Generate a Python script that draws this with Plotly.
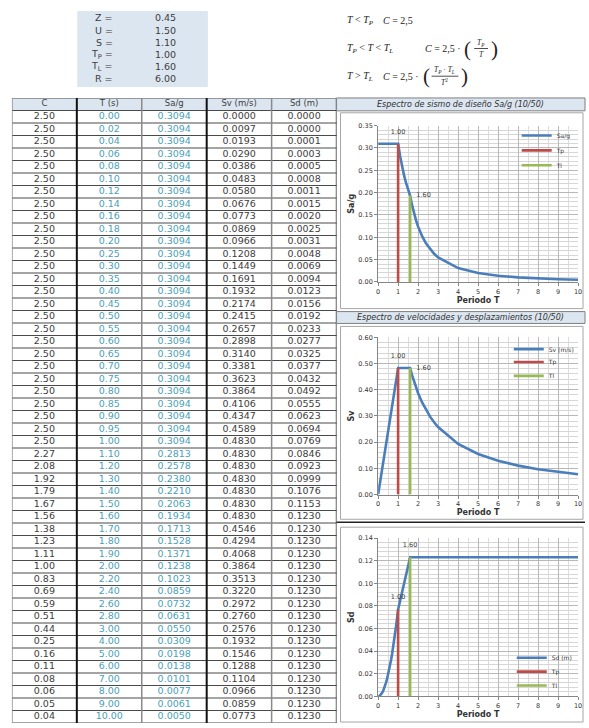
import plotly.graph_objects as go

W, H = 589, 728


def px(x):
    return x / W


def py(y):
    return 1 - y / H


# ---------------- data ----------------
PARAM_NAMES = ["Z", "U", "S", "T<sub>P</sub>", "T<sub>L</sub>", "R"]
PARAM_VALUES = [0.45, 1.50, 1.10, 1.00, 1.60, 6.00]

HEADERS = ["C", "T (s)", "Sa/g", "Sv (m/s)", "Sd (m)"]

T_VALS = [0.00, 0.02, 0.04, 0.06, 0.08, 0.10, 0.12, 0.14, 0.16, 0.18, 0.20,
          0.25, 0.30, 0.35, 0.40, 0.45, 0.50, 0.55, 0.60, 0.65, 0.70, 0.75,
          0.80, 0.85, 0.90, 0.95, 1.00, 1.10, 1.20, 1.30, 1.40, 1.50, 1.60,
          1.70, 1.80, 1.90, 2.00, 2.20, 2.40, 2.60, 2.80, 3.00, 4.00, 5.00,
          6.00, 7.00, 8.00, 9.00, 10.00]

C_VALS = [2.50, 2.50, 2.50, 2.50, 2.50, 2.50, 2.50, 2.50, 2.50, 2.50, 2.50,
          2.50, 2.50, 2.50, 2.50, 2.50, 2.50, 2.50, 2.50, 2.50, 2.50, 2.50,
          2.50, 2.50, 2.50, 2.50, 2.50, 2.27, 2.08, 1.92, 1.79, 1.67, 1.56,
          1.38, 1.23, 1.11, 1.00, 0.83, 0.69, 0.59, 0.51, 0.44, 0.25, 0.16,
          0.11, 0.08, 0.06, 0.05, 0.04]

SA_VALS = [0.3094, 0.3094, 0.3094, 0.3094, 0.3094, 0.3094, 0.3094, 0.3094,
           0.3094, 0.3094, 0.3094, 0.3094, 0.3094, 0.3094, 0.3094, 0.3094,
           0.3094, 0.3094, 0.3094, 0.3094, 0.3094, 0.3094, 0.3094, 0.3094,
           0.3094, 0.3094, 0.3094, 0.2813, 0.2578, 0.2380, 0.2210, 0.2063,
           0.1934, 0.1713, 0.1528, 0.1371, 0.1238, 0.1023, 0.0859, 0.0732,
           0.0631, 0.0550, 0.0309, 0.0198, 0.0138, 0.0101, 0.0077, 0.0061,
           0.0050]

SV_VALS = [0.0000, 0.0097, 0.0193, 0.0290, 0.0386, 0.0483, 0.0580, 0.0676,
           0.0773, 0.0869, 0.0966, 0.1208, 0.1449, 0.1691, 0.1932, 0.2174,
           0.2415, 0.2657, 0.2898, 0.3140, 0.3381, 0.3623, 0.3864, 0.4106,
           0.4347, 0.4589, 0.4830, 0.4830, 0.4830, 0.4830, 0.4830, 0.4830,
           0.4830, 0.4546, 0.4294, 0.4068, 0.3864, 0.3513, 0.3220, 0.2972,
           0.2760, 0.2576, 0.1932, 0.1546, 0.1288, 0.1104, 0.0966, 0.0859,
           0.0773]

SD_VALS = [0.0000, 0.0000, 0.0001, 0.0003, 0.0005, 0.0008, 0.0011, 0.0015,
           0.0020, 0.0025, 0.0031, 0.0048, 0.0069, 0.0094, 0.0123, 0.0156,
           0.0192, 0.0233, 0.0277, 0.0325, 0.0377, 0.0432, 0.0492, 0.0555,
           0.0623, 0.0694, 0.0769, 0.0846, 0.0923, 0.0999, 0.1076, 0.1153,
           0.1230, 0.1230, 0.1230, 0.1230, 0.1230, 0.1230, 0.1230, 0.1230,
           0.1230, 0.1230, 0.1230, 0.1230, 0.1230, 0.1230, 0.1230, 0.1230,
           0.1230]

TP = PARAM_VALUES[3]
TL = PARAM_VALUES[4]
I_TP = T_VALS.index(TP)
I_TL = T_VALS.index(TL)

# ---------------- styling ----------------
FONT = "DejaVu Sans"
TXT = "#3c3c3c"
TEAL = "#4b9fb6"
BLUE = "#4a7ebb"
RED = "#be4b48"
GREEN = "#98b954"
HEADER_FILL = "#dce6f1"
NB = "\u00a0"

fig = go.Figure()
shapes = []
annotations = []

# ---------------- parameter box ----------------
shapes.append(dict(type="rect", xref="paper", yref="paper", x0=px(76), x1=px(208),
                   y0=py(84), y1=py(7), fillcolor=HEADER_FILL, line=dict(width=0), layer="below"))
for k, (nm, val) in enumerate(zip(PARAM_NAMES, PARAM_VALUES)):
    yy = 14 + k * 12.3
    annotations.append(dict(xref="paper", yref="paper", x=px(114), y=py(yy), text=nm + " =",
                            showarrow=False, xanchor="right", yanchor="middle",
                            font=dict(family=FONT, size=9.5, color=TXT)))
    annotations.append(dict(xref="paper", yref="paper", x=px(153), y=py(yy), text=f"{val:.2f}",
                            showarrow=False, xanchor="left", yanchor="middle",
                            font=dict(family=FONT, size=9.5, color=TXT)))

# ---------------- formulas ----------------
SERIF = "Liberation Serif"


def ftext(x, y, s, size=10, anchor="left"):
    annotations.append(dict(xref="paper", yref="paper", x=px(x), y=py(y), text=s,
                            showarrow=False, xanchor=anchor, yanchor="middle",
                            font=dict(family=SERIF, size=size, color="#222")))


ftext(347, 17, "<i>T</i> < <i>T<sub>P</sub></i>")
ftext(383, 17, "<i>C</i> = 2,5")
ftext(347, 45, "<i>T<sub>P</sub></i> < <i>T</i> < <i>T<sub>L</sub></i>")
ftext(425, 45, "<i>C</i> = 2,5 ·")
ftext(465, 45, "(", size=21)
ftext(484, 39, "<i>T<sub>P</sub></i>", size=7.5, anchor="center")
ftext(484, 51, "<i>T</i>", size=7.5, anchor="center")
shapes.append(dict(type="line", xref="paper", yref="paper", x0=px(477), x1=px(491),
                   y0=py(45), y1=py(45), line=dict(color="#222", width=0.8)))
ftext(492, 45, ")", size=21)
ftext(347, 73, "<i>T</i> > <i>T<sub>L</sub></i>")
ftext(383, 73, "<i>C</i> = 2,5 ·")
ftext(423, 73, "(", size=21)
ftext(447, 67, "<i>T<sub>P</sub></i> · <i>T<sub>L</sub></i>", size=7.5, anchor="center")
ftext(447, 79, "<i>T</i><sup>2</sup>", size=7.5, anchor="center")
shapes.append(dict(type="line", xref="paper", yref="paper", x0=px(434), x1=px(461),
                   y0=py(73), y1=py(73), line=dict(color="#222", width=0.8)))
ftext(462, 73, ")", size=21)

# ---------------- table (hidden axes x4/y4) ----------------
n = len(T_VALS)
rows = list(range(n))
table_cols = [
    (C_VALS, "{:.2f}", TXT),
    (T_VALS, "{:.2f}", TEAL),
    (SA_VALS, "{:.4f}", TEAL),
    (SV_VALS, "{:.4f}", TXT),
    (SD_VALS, "{:.4f}", TXT),
]
shapes.append(dict(type="rect", xref="x4", yref="y4", x0=-0.5, x1=4.5, y0=-1.5, y1=-0.5,
                   fillcolor=HEADER_FILL, line=dict(width=0), layer="below"))
for j, (vals, fmt, col) in enumerate(table_cols):
    fig.add_trace(go.Scatter(x=[j] * n, y=rows, text=[fmt.format(v) for v in vals],
                             mode="text", textfont=dict(family=FONT, size=9.5, color=col),
                             xaxis="x4", yaxis="y4", showlegend=False, hoverinfo="skip"))
fig.add_trace(go.Scatter(x=list(range(len(HEADERS))), y=[-1] * len(HEADERS), text=HEADERS,
                         mode="text", textfont=dict(family=FONT, size=8.5, color="#404040"),
                         xaxis="x4", yaxis="y4", showlegend=False, hoverinfo="skip"))
for k in range(n + 2):
    yv = -1.5 + k
    shapes.append(dict(type="line", xref="x4", yref="y4", x0=-0.5, x1=4.56, y0=yv, y1=yv,
                       line=dict(color="#4a4a4a", width=1.1)))
for k in range(len(HEADERS) + 1):
    xv = -0.5 + k
    if k in (1, 3):
        ln = dict(color="#111", width=2)
    elif k == 5:
        ln = dict(color="#333", width=1.5)
    else:
        ln = dict(color="#8a8a8a", width=1.5)
    shapes.append(dict(type="line", xref="x4", yref="y4", x0=xv, x1=xv, y0=-1.5, y1=n - 0.5,
                       line=ln))

# ---------------- right panel decoration ----------------
shapes.append(dict(type="rect", xref="paper", yref="paper", x0=px(338), x1=px(589),
                   y0=py(108), y1=py(95), fillcolor=HEADER_FILL, line=dict(color="#7f7f7f", width=1)))
shapes.append(dict(type="rect", xref="paper", yref="paper", x0=px(338), x1=px(589),
                   y0=py(323), y1=py(311), fillcolor=HEADER_FILL, line=dict(color="#7f7f7f", width=1)))
shapes.append(dict(type="line", xref="paper", yref="paper", x0=px(338), x1=px(589),
                   y0=py(524), y1=py(524), line=dict(color="#222", width=1.5)))
for (t, b) in [(110, 308), (326, 521), (529, 726)]:
    shapes.append(dict(type="rect", xref="paper", yref="paper", x0=px(342), x1=px(587),
                       y0=py(b), y1=py(t), fillcolor="white",
                       line=dict(color="#a6a6a6", width=1), layer="below"))
annotations.append(dict(xref="paper", yref="paper", x=px(463), y=py(101.5),
                        text="<i>Espectro de sismo de diseño Sa/g (10/50)</i>", showarrow=False,
                        xanchor="center", yanchor="middle",
                        font=dict(family=FONT, size=8, color="#303030")))
annotations.append(dict(xref="paper", yref="paper", x=px(463), y=py(317),
                        text="<i>Espectro de velocidades y desplazamientos (10/50)</i>",
                        showarrow=False, xanchor="center", yanchor="middle",
                        font=dict(family=FONT, size=8, color="#303030")))

# ---------------- charts ----------------
UP = "<br>" + NB  # pushes a "top" label a little higher
RIGHT = NB * 3    # gap before a "right" label

charts = [
    dict(sfx="", vals=SA_VALS, name="Sa/g", ytitle="<b>Sa/g</b>",
         yrange=[0, 0.35], dtick=0.05, minor=0.01, dom=(123, 281),
         tp=("top center", "{}" + UP), tl=("middle right", RIGHT + "{}"),
         leg_x=520, leg_y=(133, 148, 163)),
    dict(sfx="2", vals=SV_VALS, name="Sv (m/s)", ytitle="<b>Sv</b>",
         yrange=[0, 0.60], dtick=0.10, minor=0.02, dom=(337, 496),
         tp=("top center", "{}" + UP), tl=("middle right", RIGHT + "{}"),
         leg_x=512, leg_y=(349, 362, 376)),
    dict(sfx="3", vals=SD_VALS, name="Sd (m)", ytitle="<b>Sd</b>",
         yrange=[0, 0.14], dtick=0.02, minor=0.004, dom=(540, 700),
         tp=("top center", "{}" + UP), tl=("top center", "{}" + UP),
         leg_x=515, leg_y=(661, 675, 689)),
]

layout_axes = {}
leg_count = 0
for ch in charts:
    xa = "x" + ch["sfx"]
    ya = "y" + ch["sfx"]
    legs = []
    for i in range(3):
        leg_count += 1
        key = "legend" if leg_count == 1 else f"legend{leg_count}"
        legs.append(key)
        layout_axes[key] = dict(
            x=px(ch["leg_x"]), y=py(ch["leg_y"][i]), xanchor="left", yanchor="middle",
            xref="paper", yref="paper", bgcolor="rgba(0,0,0,0)", borderwidth=0,
            font=dict(family=FONT, size=6, color="#333"), itemwidth=30)
    fig.add_trace(go.Scatter(x=T_VALS, y=ch["vals"], mode="lines", name=ch["name"],
                             line=dict(color=BLUE, width=2.6), xaxis=xa, yaxis=ya,
                             legend=legs[0], hoverinfo="skip"))
    fig.add_trace(go.Scatter(x=[TP, TP], y=[0, ch["vals"][I_TP]], mode="lines+text", name="Tp",
                             text=[None, ch["tp"][1].format(f"{TP:.2f}")],
                             textposition=ch["tp"][0],
                             textfont=dict(family=FONT, size=6.5, color="#404040"),
                             line=dict(color=RED, width=2.6), xaxis=xa, yaxis=ya,
                             legend=legs[1], hoverinfo="skip"))
    fig.add_trace(go.Scatter(x=[TL, TL], y=[0, ch["vals"][I_TL]], mode="lines+text", name="Tl",
                             text=[None, ch["tl"][1].format(f"{TL:.2f}")],
                             textposition=ch["tl"][0],
                             textfont=dict(family=FONT, size=6.5, color="#404040"),
                             line=dict(color=GREEN, width=2.6), xaxis=xa, yaxis=ya,
                             legend=legs[2], hoverinfo="skip"))
    layout_axes["xaxis" + ch["sfx"]] = dict(
        domain=[px(380), px(582)], anchor=ya, range=[0, 10], tick0=0, dtick=1,
        showgrid=True, gridcolor="#b8b8b8", gridwidth=0.8,
        minor=dict(dtick=0.5, showgrid=True, gridcolor="#dcdcdc", gridwidth=0.6),
        showline=True, linecolor="#868686", linewidth=1, ticks="outside", ticklen=3,
        tickcolor="#868686", tickfont=dict(family=FONT, size=6.5, color="#333"),
        title=dict(text="<b>Periodo T</b>", font=dict(family=FONT, size=8, color="#333"),
                   standoff=1),
        zeroline=False, fixedrange=True)
    layout_axes["yaxis" + ch["sfx"]] = dict(
        domain=[py(ch["dom"][1]), py(ch["dom"][0])], anchor=xa, range=ch["yrange"],
        tick0=0, dtick=ch["dtick"], tickformat=".2f",
        showgrid=True, gridcolor="#b8b8b8", gridwidth=0.8,
        minor=dict(dtick=ch["minor"], showgrid=True, gridcolor="#d6d6d6", gridwidth=0.6),
        showline=True, linecolor="#868686", linewidth=1, ticks="outside", ticklen=3,
        tickcolor="#868686", tickfont=dict(family=FONT, size=6.5, color="#333"),
        title=dict(text=ch["ytitle"], font=dict(family=FONT, size=8, color="#333"),
                   standoff=2),
        zeroline=False, fixedrange=True)

layout_axes["xaxis4"] = dict(domain=[px(10), px(338)], range=[-0.5, 4.5], visible=False,
                             anchor="y4", fixedrange=True)
layout_axes["yaxis4"] = dict(domain=[py(727), py(95)], range=[n - 0.5, -1.5], visible=False,
                             anchor="x4", fixedrange=True)

fig.update_layout(
    width=W, height=H, margin=dict(l=0, r=0, t=0, b=0),
    paper_bgcolor="white", plot_bgcolor="rgba(0,0,0,0)",
    shapes=shapes, annotations=annotations, showlegend=True,
    **layout_axes,
)

fig.write_html("out.html", config={"displayModeBar": False},
               post_script="document.body.style.margin='0px';document.body.style.overflow='hidden';")
